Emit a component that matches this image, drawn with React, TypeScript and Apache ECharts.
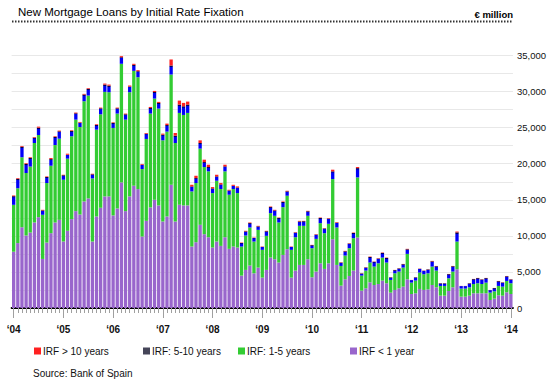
import React, { useEffect, useRef } from "react";
import * as echarts from "echarts";

// ---- Data (EUR million), monthly Jan 2004 .. Jan 2014 ----
const years = ["04", "05", "06", "07", "08", "09", "10", "11", "12", "13", "14"];
const monthNames = ["Jan", "Feb", "Mar", "Apr", "May", "Jun", "Jul", "Aug", "Sep", "Oct", "Nov", "Dec"];
const yearLabels = ["\u201804", "\u201805", "\u201806", "\u201807", "\u201808", "\u201809", "\u201810", "\u201811", "\u201812", "\u201813", "\u201814"];

const lessThan1Year = [
  7800, 9000, 11200, 10050, 10460, 11850, 12590, 6800, 9070, 10370, 11850, 12220,
  9210, 10700, 12320, 13430, 12960, 14770, 15190, 9210, 12690, 13890, 15470, 15470,
  12830, 13800, 17410, 13430, 15470, 16950, 16480, 9910, 12080, 13940, 15000, 14220,
  11990, 12690, 17080, 11990, 14310, 14220, 14220, 8520, 9120, 11530, 10230, 9810,
  8380, 9210, 8610, 9810, 8200, 8520, 8380, 4490, 5280, 5880, 4810, 5600,
  4210, 5280, 6990, 6760, 6300, 7360, 8150, 4210, 5190, 5970, 5970, 6760,
  4260, 5050, 6200, 5420, 6200, 9540, 5970, 3100, 3980, 4440, 5190, 9770,
  2410, 2730, 3560, 3190, 3330, 3800, 3430, 2130, 2500, 2730, 2960, 3980,
  1940, 2040, 2640, 2500, 2590, 3190, 2870, 1710, 1710, 2360, 2870, 5370,
  1570, 1570, 1710, 2040, 2040, 2040, 2040, 1110, 1300, 1760, 1710, 2180,
  1940,
];

const oneToFiveYears = [
  6500, 7600, 9700, 8650, 9140, 11020, 11390, 6120, 8250, 9350, 10740, 11250,
  8570, 10000, 11480, 12680, 12130, 13890, 14260, 8750, 12030, 12960, 14490, 14440,
  12130, 13150, 16440, 12680, 14440, 15920, 15510, 9350, 11350, 13010, 14030, 13420,
  11250, 11760, 15280, 10880, 12730, 12540, 12820, 7640, 8200, 10560, 9310, 9130,
  7550, 8430, 7880, 9130, 7500, 7970, 7550, 4030, 4770, 5280, 4400, 5230,
  3850, 4720, 6160, 6020, 5550, 6620, 7410, 3850, 4620, 5420, 5420, 6020,
  4030, 4530, 5560, 4950, 5470, 8330, 5190, 2730, 3290, 3850, 4490, 8330,
  2080, 2460, 2740, 2550, 2870, 3190, 2870, 1760, 2310, 2320, 2640, 3520,
  1580, 1760, 2270, 2180, 2220, 2550, 2320, 1350, 1350, 1760, 2180, 3840,
  1120, 1120, 1160, 1290, 1390, 1290, 1480, 1020, 1010, 1300, 1250, 1570,
  1490,
];

const fiveToTenYears = [
  1200, 1300, 1450, 1250, 1200, 730, 1010, 610, 840, 920, 1110, 1020,
  610, 540, 730, 880, 600, 920, 920, 570, 650, 830, 1000, 910,
  700, 730, 910, 740, 780, 830, 830, 590, 730, 770, 910, 780,
  780, 910, 1250, 1020, 1160, 1200, 1160, 690, 690, 780, 690, 600,
  650, 600, 640, 690, 590, 440, 770, 490, 570, 610, 500, 480,
  410, 640, 840, 750, 640, 710, 610, 410, 640, 610, 640, 630,
  420, 590, 720, 650, 720, 1070, 660, 460, 590, 640, 720, 1290,
  290, 420, 770, 660, 650, 650, 640, 350, 440, 430, 470, 640,
  350, 440, 520, 480, 530, 730, 600, 350, 350, 570, 740, 1270,
  350, 350, 540, 670, 710, 620, 620, 350, 450, 660, 570, 650,
  520,
];

const over10Years = [
  100, 100, 100, 100, 100, 100, 150, 80, 80, 150, 100, 100,
  80, 150, 100, 100, 100, 100, 100, 80, 100, 100, 150, 150,
  80, 100, 150, 100, 150, 150, 150, 100, 100, 150, 150, 150,
  150, 200, 840, 370, 550, 470, 410, 230, 320, 370, 330, 320,
  180, 230, 190, 230, 100, 150, 150, 60, 80, 80, 60, 80,
  50, 60, 80, 80, 50, 80, 80, 50, 60, 80, 50, 60,
  40, 60, 60, 50, 60, 230, 80, 50, 60, 50, 60, 150,
  30, 40, 60, 40, 50, 50, 50, 20, 30, 30, 40, 60,
  20, 20, 30, 30, 30, 60, 40, 20, 20, 30, 40, 120,
  20, 20, 20, 30, 30, 30, 30, 20, 20, 30, 30, 40,
  30,
];

const categories: string[] = [];
years.forEach((y, yi) => {
  monthNames.forEach((m) => {
    if (yi < years.length - 1 || m === "Jan") categories.push(m + " " + y);
  });
});

const FONT = '"Liberation Sans", Arial, sans-serif';
const C_RED = "#ff2020";
const C_DARK = "#454558";
const C_GREEN = "#33cc33";
const C_PURPLE = "#9966cc";

export default function App() {
  const ref = useRef<HTMLDivElement>(null);

  useEffect(() => {
    document.body.style.margin = "0";
    if (!ref.current) return;
    const chart = echarts.init(ref.current, null, { renderer: "svg" });

    const blueFill = new echarts.graphic.LinearGradient(0, 0, 0, 1, [
      { offset: 0, color: "#00003c" },
      { offset: 0.13, color: "#000060" },
      { offset: 0.16, color: "#0000f0" },
      { offset: 1, color: "#0000ff" },
    ]);

    const isYear = (i: number) => i % 12 === 0;

    const legendBase = {
      top: 346,
      padding: 0,
      itemWidth: 7,
      itemHeight: 7,
      icon: "rect",
      selectedMode: false,
      textStyle: { fontFamily: FONT, fontSize: 10, color: "#111", padding: [0, 0, 0, -3] },
    };

    chart.setOption({
      animation: false,
      backgroundColor: "#ffffff",
      title: [
        {
          text: "New Mortgage Loans by Initial Rate Fixation",
          left: 18,
          top: 6,
          padding: 0,
          textStyle: { fontFamily: FONT, fontSize: 11.5, fontWeight: "normal", color: "#000" },
        },
        {
          text: "\u20ac million",
          right: 36,
          top: 9,
          padding: 0,
          textStyle: { fontFamily: FONT, fontSize: 9.5, fontWeight: "bold", color: "#000" },
        },
        {
          text: "Source: Bank of Spain",
          left: 33,
          top: 368,
          padding: 0,
          textStyle: { fontFamily: FONT, fontSize: 10, fontWeight: "normal", color: "#111" },
        },
      ],
      legend: [
        { ...legendBase, left: 34, data: [{ name: "IRF > 10 years", itemStyle: { color: C_RED } }] },
        { ...legendBase, left: 143, data: [{ name: "IRF: 5-10 years", itemStyle: { color: C_DARK } }] },
        { ...legendBase, left: 238, data: [{ name: "IRF: 1-5 years", itemStyle: { color: C_GREEN } }] },
        { ...legendBase, left: 350, data: [{ name: "IRF < 1 year", itemStyle: { color: C_PURPLE } }] },
      ],
      graphic: [
        {
          type: "line",
          shape: { x1: 12, y1: 21.5, x2: 513, y2: 21.5 },
          style: { stroke: "#333", lineWidth: 2, lineDash: [1.5, 1.5] },
          silent: true,
        },
      ],
      grid: { left: 11.6, width: 502.2, top: 55.5, height: 252.5, containLabel: false },
      xAxis: [
        {
          type: "category",
          data: categories,
          boundaryGap: true,
          axisLine: { show: true, lineStyle: { color: "#000", width: 2 } },
          axisTick: { show: true, interval: 0, alignWithLabel: true, length: 5, lineStyle: { color: "#a0a0a0" } },
          axisLabel: { show: false },
          splitLine: { show: false },
        },
        {
          type: "category",
          data: categories,
          position: "bottom",
          boundaryGap: true,
          axisLine: { show: false },
          axisTick: {
            show: true,
            interval: (i: number) => isYear(i),
            alignWithLabel: true,
            length: 10,
            lineStyle: { color: "#a0a0a0" },
          },
          axisLabel: {
            show: true,
            interval: (i: number) => isYear(i),
            formatter: (_v: string, i: number) => yearLabels[Math.round(i / 12)] ?? "",
            margin: 16,
            fontFamily: FONT,
            fontSize: 10,
            fontWeight: "bold",
            color: "#111",
          },
          splitLine: { show: false },
        },
      ],
      yAxis: {
        type: "value",
        position: "right",
        min: 0,
        max: 35000,
        interval: 2500,
        axisLine: { show: false },
        axisTick: { show: false },
        splitLine: { show: true, lineStyle: { color: "#e8e8e8", width: 1 } },
        axisLabel: {
          margin: 4,
          fontFamily: FONT,
          fontSize: 9.5,
          color: "#111",
          formatter: (v: number) => (v % 5000 === 0 ? v.toLocaleString("en-US") : ""),
        },
      },
      series: [
        {
          name: "IRF < 1 year",
          type: "bar",
          stack: "total",
          xAxisIndex: 0,
          barCategoryGap: "20%",
          data: lessThan1Year,
          itemStyle: { color: C_PURPLE },
        },
        {
          name: "IRF: 1-5 years",
          type: "bar",
          stack: "total",
          xAxisIndex: 0,
          data: oneToFiveYears,
          itemStyle: { color: C_GREEN },
        },
        {
          name: "IRF: 5-10 years",
          type: "bar",
          stack: "total",
          xAxisIndex: 0,
          data: fiveToTenYears,
          itemStyle: { color: blueFill },
        },
        {
          name: "IRF > 10 years",
          type: "bar",
          stack: "total",
          xAxisIndex: 0,
          data: over10Years,
          itemStyle: { color: C_RED },
        },
      ],
    });

    return () => chart.dispose();
  }, []);

  return <div ref={ref} style={{ width: 549, height: 380 }} />;
}
